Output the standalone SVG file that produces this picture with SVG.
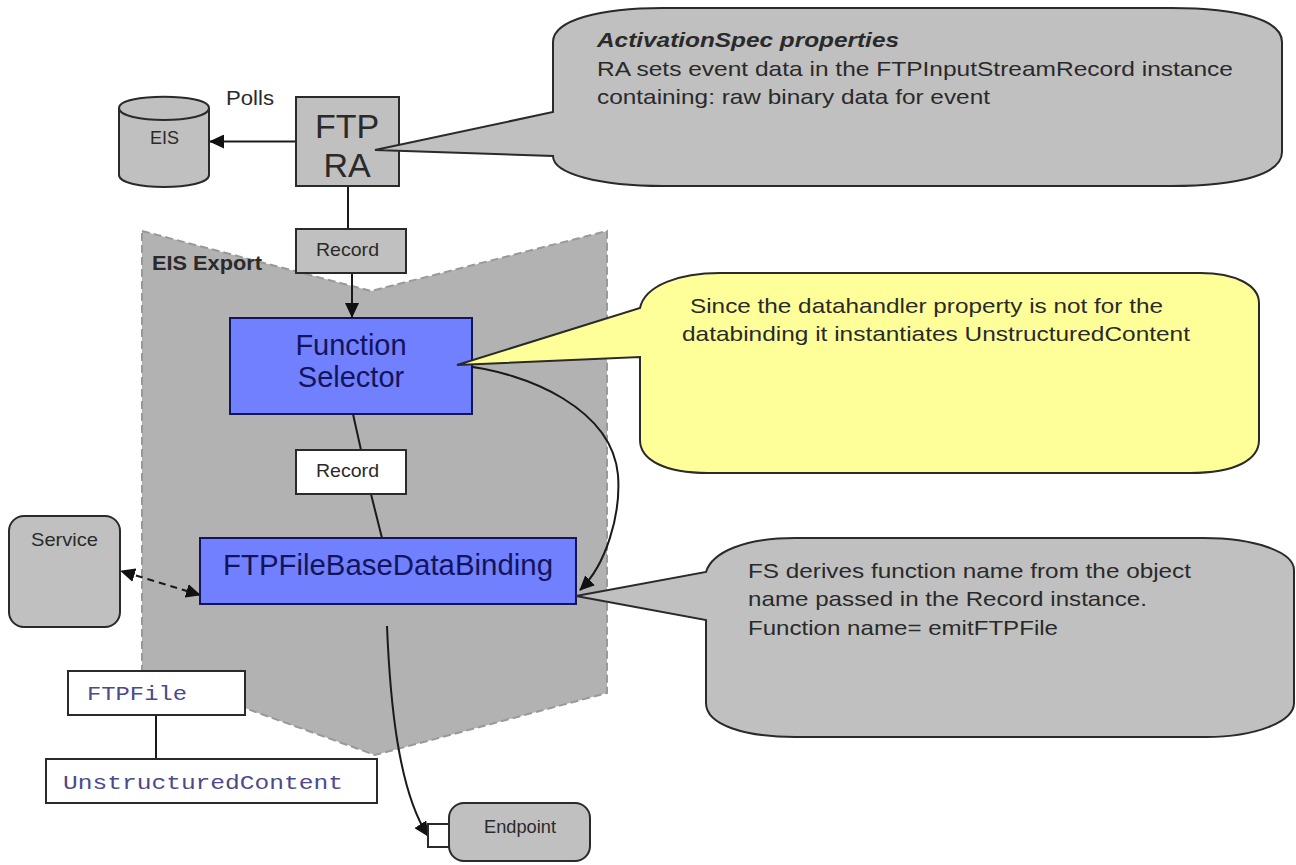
<svg xmlns="http://www.w3.org/2000/svg" width="1296" height="865" viewBox="0 0 1296 865">
<style>
text{font-family:"Liberation Sans",Arial,sans-serif;fill:#2a2a2a}
.s{stroke:#2a2a2a;stroke-width:2;fill:#c0c0c0}
.b{stroke:#14145a;stroke-width:2;fill:#7080ff}
.w{stroke:#2a2a2a;stroke-width:2;fill:#fff}
.c{stroke:#1a1a1a;stroke-width:2;fill:none}
.bt{fill:#14145a;text-anchor:middle;font-size:29px}
.m{font-family:"Liberation Mono",monospace;fill:#4a4a8c;font-size:21px}
.t{font-size:21px}
.sm{font-size:19px}
</style>
<defs>
<marker id="a" markerWidth="16" markerHeight="14" refX="14" refY="7" orient="auto-start-reverse" markerUnits="userSpaceOnUse"><path d="M0 0L15 7L0 14z" fill="#111"/></marker>
</defs>
<rect width="1296" height="865" fill="#fff"/>
<g id="eis-export">
<path d="M142 231L371 291L607 231V693L375 755L142 671z" fill="#b2b2b2" stroke="#999" stroke-width="2" stroke-dasharray="8 4"/>
<text x="152" y="270" font-size="21" font-weight="bold" textLength="110" lengthAdjust="spacingAndGlyphs">EIS Export</text>
</g>
<g id="connectors">
<path class="c" d="M296 141.500H210" marker-end="url(#a)"/>
<path class="c" d="M348 186V229"/>
<path class="c" d="M352 273V317" marker-end="url(#a)"/>
<path class="c" d="M353 414L361 450"/>
<path class="c" d="M371 494L382 538"/>
<path class="c" d="M457 365C530 372 612 410 618 475C621 515 606 565 580 590" stroke-width="1.500" marker-end="url(#a)"/>
<path class="c" d="M200 595L121 571" stroke-dasharray="7 5" marker-start="url(#a)" marker-end="url(#a)"/>
<path class="c" d="M387 626C390 700 398 790 428 836" stroke-width="1.500" marker-end="url(#a)"/>
<path class="c" d="M156 714V759"/>
</g>
<g id="eis"><path class="s" d="M119 108C119 93 209 93 209 108V175C209 191 119 191 119 175z"/><path class="s" d="M119 108C119 124 209 124 209 108" fill="#c8c8c8"/><text class="sm" x="150" y="144" textLength="29" lengthAdjust="spacingAndGlyphs">EIS</text></g>
<g id="polls"><text x="226" y="105" font-size="20" textLength="48" lengthAdjust="spacingAndGlyphs">Polls</text></g>
<g id="ftp-ra"><rect class="s" x="296" y="97" width="103" height="89"/><text x="347" y="138" font-size="34" text-anchor="middle">FTP</text><text x="347" y="177" font-size="34" text-anchor="middle">RA</text></g>
<g id="record-1"><rect class="s" x="296" y="229" width="110" height="44"/><text class="sm" x="316" y="256" textLength="63" lengthAdjust="spacingAndGlyphs">Record</text></g>
<g id="function-selector"><rect class="b" x="230" y="318" width="242" height="96"/><text class="bt" x="351" y="355">Function</text><text class="bt" x="351" y="387">Selector</text></g>
<g id="record-2"><rect class="w" x="296" y="450" width="110" height="44"/><text class="sm" x="316" y="477" textLength="63" lengthAdjust="spacingAndGlyphs">Record</text></g>
<g id="binding"><rect class="b" x="200" y="538" width="376" height="66"/><text class="bt" x="388" y="575" textLength="330" lengthAdjust="spacingAndGlyphs">FTPFileBaseDataBinding</text></g>
<g id="service"><rect class="s" x="9" y="516" width="111" height="111" rx="15"/><text class="sm" x="31" y="546" textLength="67" lengthAdjust="spacingAndGlyphs">Service</text></g>
<g id="ftpfile"><rect class="w" x="68" y="671" width="177" height="44"/><text class="m" x="87" y="700" textLength="100" lengthAdjust="spacingAndGlyphs">FTPFile</text></g>
<g id="unstructured"><rect class="w" x="46" y="759" width="331" height="44"/><text class="m" x="63" y="789" textLength="280" lengthAdjust="spacingAndGlyphs">UnstructuredContent</text></g>
<g id="endpoint"><rect class="w" x="428" y="824" width="21" height="23"/><rect class="s" x="449" y="803" width="141" height="58" rx="15"/><text class="sm" x="484" y="833" textLength="72" lengthAdjust="spacingAndGlyphs">Endpoint</text></g>
<g id="callout-1"><path class="s" d="M375 150L553 112V42C553 20 600 8 663 8H1171C1240 8 1282 20 1282 42V152C1282 174 1240 186 1171 186H663C600 186 553 174 553 156z"/><text x="597" y="47" font-size="21" font-weight="bold" font-style="italic" textLength="302" lengthAdjust="spacingAndGlyphs">ActivationSpec properties</text><text class="t" x="597" y="76" textLength="636" lengthAdjust="spacingAndGlyphs">RA sets event data in the FTPInputStreamRecord instance</text><text class="t" x="597" y="104" textLength="393" lengthAdjust="spacingAndGlyphs">containing: raw binary data for event</text></g>
<g id="callout-2"><path class="s" style="fill:#ffff99" d="M457 365L640 308C645 285 680 273 720 273H1200C1235 273 1259 285 1259 303V440C1259 460 1235 473 1190 473H708C665 473 640 460 640 440V357z"/><text class="t" x="690" y="313" textLength="473" lengthAdjust="spacingAndGlyphs">Since the datahandler property is not for the</text><text class="t" x="682" y="341" textLength="508" lengthAdjust="spacingAndGlyphs">databinding it instantiates UnstructuredContent</text></g>
<g id="callout-3"><path class="s" d="M576 596L706 572C712 552 745 538 795 538H1203C1255 538 1294 552 1294 570V703C1294 722 1255 737 1206 737H795C745 737 706 725 706 703V620z"/><text class="t" x="748" y="578" textLength="443" lengthAdjust="spacingAndGlyphs">FS derives function name from the object</text><text class="t" x="748" y="606" textLength="399" lengthAdjust="spacingAndGlyphs">name passed in the Record instance.</text><text class="t" x="748" y="635" textLength="310" lengthAdjust="spacingAndGlyphs">Function name= emitFTPFile</text></g>
</svg>
